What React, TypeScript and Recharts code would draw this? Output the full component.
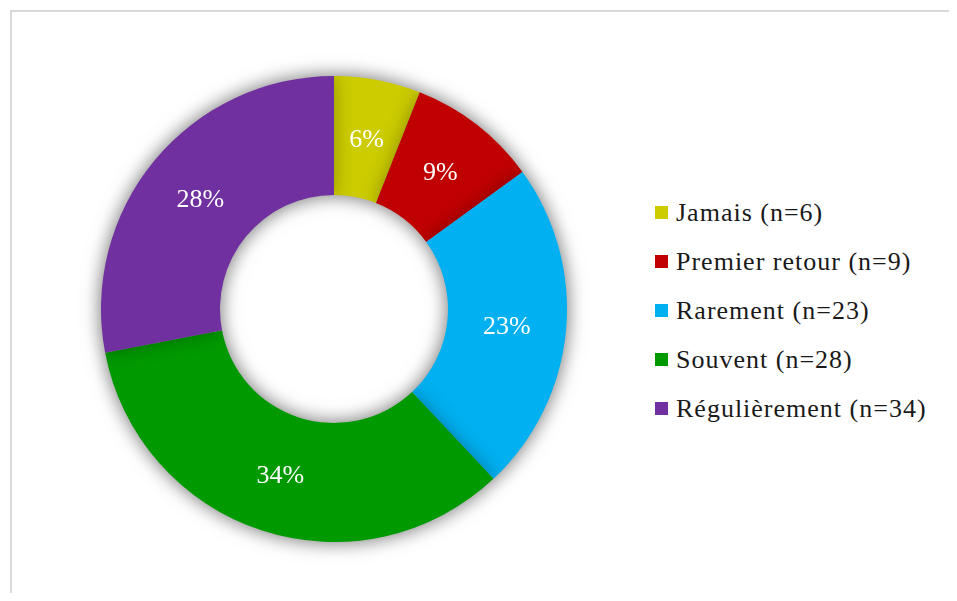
import React from 'react'
import { PieChart, Pie, Cell, Legend } from 'recharts'

// slice values as drawn in the source picture (the legend text is kept as printed)
const categories = ['Jamais', 'Premier retour', 'Rarement', 'Souvent', 'Régulièrement']
const shares = [6, 9, 23, 34, 28]
const legendLabels = ['Jamais (n=6)', 'Premier retour (n=9)', 'Rarement (n=23)', 'Souvent (n=28)', 'Régulièrement (n=34)']
const colors = ['#CCCC00', '#C00000', '#00B0F0', '#009900', '#7030A0']

const data = categories.map((name, i) => ({ name, value: shares[i] }))
const total = shares.reduce((a, b) => a + b, 0)

const FONT = '"Liberation Serif", "DejaVu Serif", serif'
const RAD = Math.PI / 180

const renderLabel = (props: any) => {
  const { cx, cy, midAngle, innerRadius, outerRadius, value } = props
  const r = (innerRadius + outerRadius) / 2
  const x = cx + r * Math.cos(-midAngle * RAD)
  const y = cy + r * Math.sin(-midAngle * RAD)
  return (
    <text x={x} y={y} fill="#ffffff" fontSize={26} fontFamily={FONT} textAnchor="middle" dominantBaseline="central">
      {Math.round((value / total) * 100)}%
    </text>
  )
}

const renderLegend = () => (
  <div style={{ fontFamily: FONT, fontSize: 26, letterSpacing: 1, color: '#1a1a1a' }}>
    {data.map((d, i) => (
      <div key={d.name} style={{ display: 'flex', alignItems: 'center', height: 49 }}>
        <span style={{ display: 'inline-block', width: 13, height: 13, background: colors[i], marginRight: 8 }} />
        <span>{legendLabels[i]}</span>
      </div>
    ))}
  </div>
)

export default function App() {
  return (
    <div style={{ position: 'relative', height: 601, margin: -8, overflow: 'hidden' }}>
      <style>{`.donut-shadow { filter: drop-shadow(0 0 9px rgba(0,0,0,0.3)); }`}</style>
      <div
        style={{
          position: 'absolute', left: 10, top: 10, width: 1000, height: 1000,
          borderTop: '2px solid #d9d9d9', borderLeft: '2px solid #d9d9d9',
        }}
      />
      <div style={{ position: 'absolute', left: 0, top: 0 }}>
        <PieChart width={957} height={601} margin={{ top: 0, right: 0, bottom: 0, left: 0 }}>
          <Pie
            data={data}
            dataKey="value"
            nameKey="name"
            cx={334}
            cy={309}
            innerRadius={114}
            outerRadius={233}
            startAngle={90}
            endAngle={-270}
            stroke="none"
            label={renderLabel}
            labelLine={false}
            className="donut-shadow"
            isAnimationActive={false}
          >
            {data.map((d, i) => (
              <Cell key={d.name} fill={colors[i]} />
            ))}
          </Pie>
          <Legend content={renderLegend} wrapperStyle={{ position: 'absolute', left: 655, top: 188, width: 300 }} />
        </PieChart>
      </div>
    </div>
  )
}
